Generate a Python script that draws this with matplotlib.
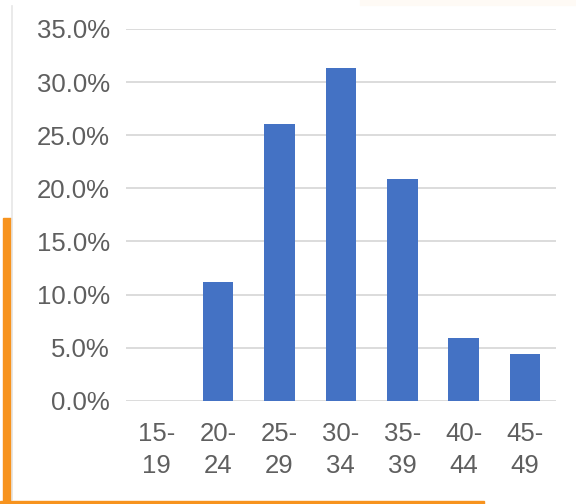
import matplotlib.pyplot as plt
from matplotlib.patches import Rectangle
from matplotlib.lines import Line2D
from matplotlib.ticker import PercentFormatter

# Age groups and share of respondents
age_groups = ["15-\n19", "20-\n24", "25-\n29", "30-\n34", "35-\n39", "40-\n44", "45-\n49"]
shares = [0.0, 0.1115, 0.2605, 0.313, 0.2085, 0.0588, 0.044]
y_ticks = [0.0, 0.05, 0.10, 0.15, 0.20, 0.25, 0.30, 0.35]

plt.rcParams['font.family'] = ['Liberation Sans', 'DejaVu Sans']

fig = plt.figure(figsize=(5.76, 5.04), dpi=100)
ax = fig.add_axes([126 / 576, 103.3 / 504, 429.7 / 576, (400.7 - 29) / 504])

x = list(range(len(age_groups)))
ax.bar(x, shares, width=0.5, color="#4472C4", zorder=3)

ax.set_xlim(-0.5, len(age_groups) - 0.5)
ax.set_ylim(0, 0.35)
ax.set_yticks(y_ticks)
ax.yaxis.set_major_formatter(PercentFormatter(1.0, decimals=1))
ax.set_xticks(x)
ax.set_xticklabels(age_groups, linespacing=1.45)

ax.grid(axis="y", color="#d9d9d9", linewidth=1.3, zorder=0)
for s in ax.spines.values():
    s.set_visible(False)
ax.tick_params(axis="both", length=0, labelsize=18.5, colors="#5f5f5f")
ax.tick_params(axis="y", pad=11.5)
ax.tick_params(axis="x", pad=15)

# frame decorations from the screenshot
fig.add_artist(Line2D([12 / 576, 12 / 576], [1 - 6 / 504, 1 - 500 / 504],
                      color="#e6e6e6", linewidth=1.2, transform=fig.transFigure))
fig.add_artist(Rectangle((3 / 576, 0), 8 / 576, (504 - 218) / 504,
                         color="#F7931E", transform=fig.transFigure))
fig.add_artist(Rectangle((0, 0), 484 / 576, 3 / 504,
                         color="#F7931E", transform=fig.transFigure))
fig.add_artist(Rectangle((360 / 576, 1 - 5 / 504), 216 / 576, 5 / 504,
                         color="#fefaf5", transform=fig.transFigure))

fig.savefig("out.png", dpi=100)
